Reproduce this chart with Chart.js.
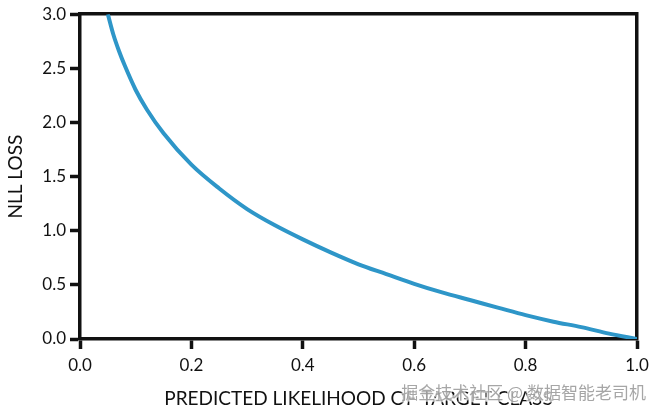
<!DOCTYPE html>
<html>
<head>
<meta charset="utf-8">
<script src="https://cdn.jsdelivr.net/npm/chart.js@4"></script>
<style>
  html, body { margin: 0; padding: 0; background: #fff; }
  #wrap { width: 657px; height: 414px; }
</style>
</head>
<body>
<div id="wrap"><canvas id="nll"></canvas></div>
<script>
// values
const likelihood = [0.05, 0.06, 0.07, 0.08, 0.10, 0.12, 0.15, 0.20, 0.25, 0.30, 0.35, 0.40,
  0.45, 0.50, 0.55, 0.60, 0.65, 0.70, 0.75, 0.80, 0.85, 0.90, 0.95, 1.00];
const nllLoss = [3.00, 2.81, 2.66, 2.53, 2.30, 2.12, 1.90, 1.61, 1.39, 1.20, 1.05, 0.92,
  0.80, 0.69, 0.60, 0.51, 0.43, 0.36, 0.29, 0.22, 0.16, 0.11, 0.05, 0.00];
const xTicks = [0.0, 0.2, 0.4, 0.6, 0.8, 1.0];
const yTicks = [0.0, 0.5, 1.0, 1.5, 2.0, 2.5, 3.0];
const xTitle = "PREDICTED LIKELIHOOD OF TARGET CLASS";
const yTitle = "NLL LOSS";
const watermark = "掘金技术社区 @ 数据智能老司机";

const ink = "#111";
const tickFont = { family: "Lato", size: 17 };

const points = likelihood.map((p, i) => ({ x: p, y: nllLoss[i] }));

const watermarkPlugin = {
  id: "watermark",
  afterDraw(chart) {
    const ctx = chart.ctx;
    ctx.save();
    ctx.font = "17px 'Noto Sans CJK SC'";
    ctx.textAlign = "right";
    ctx.textBaseline = "middle";
    ctx.lineWidth = 3;
    ctx.strokeStyle = "rgba(255,255,255,0.7)";
    ctx.strokeText(watermark, 646, 393);
    ctx.fillStyle = "rgba(150,150,150,0.85)";
    ctx.fillText(watermark, 646, 393);
    ctx.restore();
  }
};

const edge = (pos, w) => ({
  type: "linear",
  position: pos,
  min: pos == "top" ? 0 : 0,
  max: pos == "top" ? 1 : 3,
  ticks: { display: false },
  grid: { display: false },
  border: { display: true, color: ink, width: 3.5 },
  afterFit: (s) => { if (w == "h") s.height = 0; else s.width = 0; }
});

new Chart(document.querySelector("#nll"), {
  type: "line",
  data: {
    datasets: [{
      data: points,
      borderColor: "#2e96c8",
      borderWidth: 4,
      pointRadius: 0,
      cubicInterpolationMode: "monotone",
      fill: false
    }]
  },
  options: {
    responsive: true,
    maintainAspectRatio: false,
    animation: false,
    layout: { padding: { left: 0, right: 20, top: 12, bottom: 0 } },
    plugins: { legend: { display: false }, tooltip: { enabled: false } },
    scales: {
      x: {
        type: "linear",
        min: 0,
        max: 1,
        afterBuildTicks: (s) => { s.ticks = xTicks.map(v => ({ value: v })); },
        ticks: { color: ink, font: tickFont, padding: 6, callback: (v) => v.toFixed(1) },
        grid: { drawOnChartArea: false, drawTicks: true, tickLength: 10, tickWidth: 3.5, color: ink },
        border: { display: true, color: ink, width: 3.5 },
        title: { display: true, text: xTitle, color: ink, font: { family: "Lato", size: 19 }, padding: { top: 12 } },
        afterFit: (s) => { s.height = 75; }
      },
      y: {
        type: "linear",
        min: 0,
        max: 3,
        afterBuildTicks: (s) => { s.ticks = yTicks.map(v => ({ value: v })); },
        ticks: { color: ink, font: tickFont, padding: 4, callback: (v) => v.toFixed(1) },
        grid: { drawOnChartArea: false, drawTicks: true, tickLength: 10, tickWidth: 3.5, color: ink },
        border: { display: true, color: ink, width: 3.5 },
        title: { display: true, text: yTitle, color: ink, font: { family: "Lato", size: 19 }, padding: { bottom: 8 } },
        afterFit: (s) => { s.width = 80; }
      },
      x2: edge("top", "h"),
      y2: edge("right", "w")
    }
  },
  plugins: [watermarkPlugin]
});
</script>
</body>
</html>
